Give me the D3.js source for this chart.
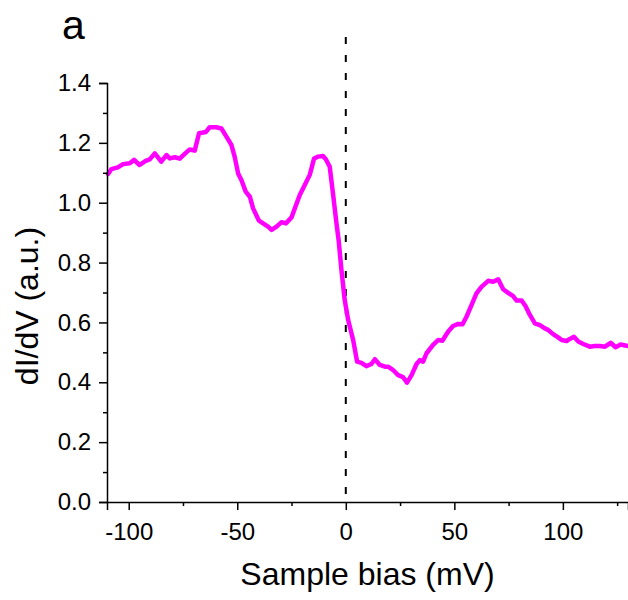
<!DOCTYPE html>
<html>
<head>
<meta charset="utf-8">
<script src="https://cdn.jsdelivr.net/npm/d3@7"></script>
<style>
  body { margin: 0; background: #fff; }
  svg { display: block; }
  text { font-family: "Liberation Sans", Arial, sans-serif; }
</style>
</head>
<body>
<svg id="chart" width="628" height="600"></svg>
<script>
// Data
const biasMV = [-109.5,-108,-105,-102.6,-99.5,-97.5,-95,-92.2,-90.3,-88,-85,-82.6,-81.1,-78.8,-76.5,-74.2,-71.9,-69.6,-67.6,-64.5,-62.7,-59.6,-57.3,-55,-52.7,-51.2,-49.6,-48.1,-46.1,-44.2,-42.7,-40,-38.1,-35.8,-34.2,-31.9,-29.6,-27.6,-25,-23.5,-21.2,-18.9,-16.6,-14.6,-12.8,-10.5,-9.2,-7.4,-5.9,-4.3,-3.3,-2,-0.5,1.1,3.4,5.2,7.2,9.5,11.8,13.4,15.7,18,19.5,21.8,24.1,26.4,28.2,30.3,32.6,34.1,35.6,37.2,40.2,42.5,44.5,47.1,49.4,51.8,53.8,55.6,57.9,60.2,62.5,65.6,67.9,70.2,72.5,74.8,77.1,78.7,81,82.9,84.8,87.1,89.4,91.7,93.2,95.5,97.8,99.4,101.7,103.2,105.1,107.1,109.4,112.4,114.7,117,119.4,122,124.3,126.6,130];
const dIdV = [1.096,1.112,1.118,1.129,1.132,1.143,1.126,1.14,1.145,1.165,1.137,1.159,1.148,1.152,1.147,1.163,1.178,1.174,1.232,1.236,1.252,1.252,1.248,1.221,1.193,1.154,1.098,1.076,1.037,1.02,0.981,0.94,0.931,0.92,0.909,0.92,0.935,0.931,0.951,0.981,1.026,1.059,1.093,1.148,1.154,1.156,1.145,1.12,1.031,0.931,0.875,0.775,0.675,0.608,0.541,0.469,0.465,0.454,0.461,0.477,0.458,0.452,0.452,0.441,0.424,0.417,0.399,0.424,0.461,0.474,0.469,0.497,0.525,0.541,0.539,0.569,0.588,0.595,0.594,0.619,0.658,0.697,0.719,0.739,0.736,0.744,0.711,0.699,0.688,0.673,0.673,0.653,0.625,0.597,0.591,0.58,0.575,0.561,0.55,0.541,0.538,0.545,0.552,0.536,0.528,0.519,0.521,0.521,0.519,0.532,0.517,0.526,0.521];
const xMajorTicks = [-100, -50, 0, 50, 100];
const xMinorTicks = [-75, -25, 25, 75, 125];
const yMajorTicks = [0.0, 0.2, 0.4, 0.6, 0.8, 1.0, 1.2, 1.4];
const yMinorTicks = [0.1, 0.3, 0.5, 0.7, 0.9, 1.1, 1.3];
const xTitle = "Sample bias (mV)";
const yTitle = "dI/dV (a.u.)";
const panelLabel = "a";

(function () {
  const FONT = "'Liberation Sans', Arial, sans-serif";
  const svg = d3.select("#chart");
  const mLeft = 107, mRight = 628, mTop = 83, mBottom = 502;

  const x = d3.scaleLinear().domain([-110, 130]).range([mLeft, mRight]);
  const y = d3.scaleLinear().domain([0, 1.4]).range([mBottom, mTop]);

  // dashed zero line
  svg.append("line")
    .attr("x1", x(0)).attr("x2", x(0))
    .attr("y1", 37).attr("y2", mBottom)
    .attr("stroke", "#000").attr("stroke-width", 2)
    .attr("stroke-dasharray", "7,11");

  // curve
  const pts = d3.zip(biasMV, dIdV);
  const line = d3.line().x(d => x(d[0])).y(d => y(d[1]));
  svg.append("path")
    .datum(pts)
    .attr("d", line)
    .attr("fill", "none")
    .attr("stroke", "#ff00ff")
    .attr("stroke-width", 4.5)
    .attr("stroke-linejoin", "round")
    .attr("stroke-linecap", "round");

  // x axis
  const gx = svg.append("g").attr("transform", `translate(0,${mBottom})`);
  gx.call(d3.axisBottom(x).tickValues(xMajorTicks).tickSize(8).tickPadding(13).tickFormat(d => String(d)));
  gx.append("g").call(d3.axisBottom(x).tickValues(xMinorTicks).tickSize(4).tickFormat(""))
    .select(".domain").remove();
  gx.attr("font-size", 24).attr("font-family", FONT);
  gx.selectAll(".domain").attr("stroke-width", 1.5);
  gx.selectAll(".tick line").attr("stroke-width", 1.5);
  gx.selectAll(".tick text").attr("fill", "#000");

  // y axis
  const gy = svg.append("g").attr("transform", `translate(${mLeft},0)`);
  gy.call(d3.axisLeft(y).tickValues(yMajorTicks).tickSize(8).tickPadding(8).tickFormat(d3.format(".1f")));
  gy.append("g").call(d3.axisLeft(y).tickValues(yMinorTicks).tickSize(4).tickFormat(""))
    .select(".domain").remove();
  gy.attr("font-size", 24).attr("font-family", FONT);
  gy.selectAll(".domain").attr("stroke-width", 1.5);
  gy.selectAll(".tick line").attr("stroke-width", 1.5);
  gy.selectAll(".tick text").attr("fill", "#000");

  // titles
  svg.append("text")
    .attr("x", 367.5).attr("y", 585)
    .attr("text-anchor", "middle")
    .attr("font-family", FONT)
    .attr("font-size", 32)
    .text(xTitle);

  svg.append("text")
    .attr("transform", `translate(38,306) rotate(-90)`)
    .attr("text-anchor", "middle")
    .attr("font-family", FONT)
    .attr("font-size", 32)
    .text(yTitle);

  svg.append("text")
    .attr("x", 62).attr("y", 38.5)
    .attr("font-family", FONT)
    .attr("font-size", 41)
    .text(panelLabel);
})();
</script>
</body>
</html>
